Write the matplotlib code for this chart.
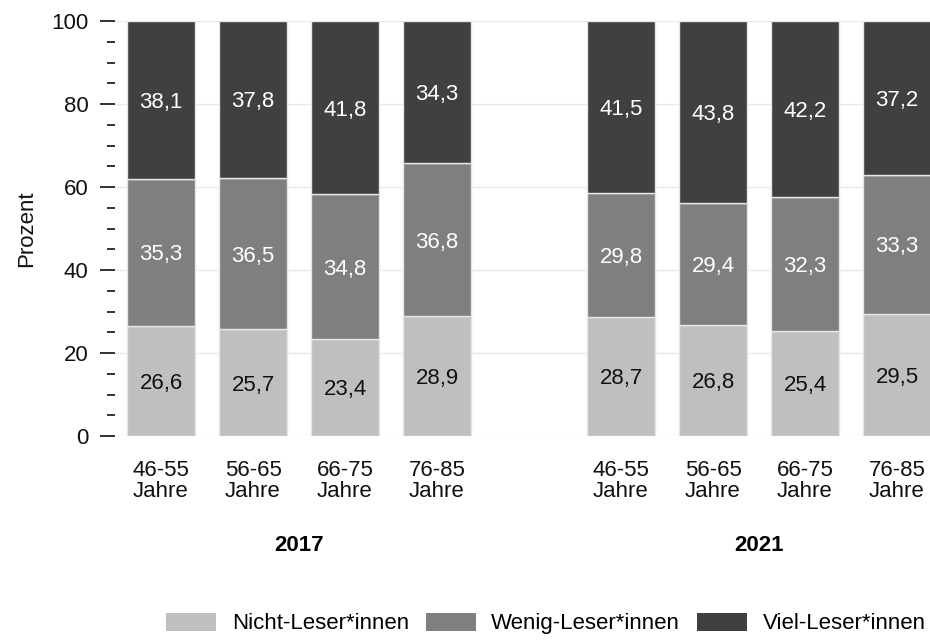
import matplotlib
matplotlib.use("Agg")
import matplotlib.pyplot as plt
from matplotlib.ticker import MultipleLocator
from matplotlib.patches import Patch

plt.rcParams['font.family'] = ['Liberation Sans', 'DejaVu Sans']

# Age groups and survey years
age_groups = ["46-55\nJahre", "56-65\nJahre", "66-75\nJahre", "76-85\nJahre"]
years = ["2017", "2021"]
series_names = ["Nicht-Leser*innen", "Wenig-Leser*innen", "Viel-Leser*innen"]

# Shares in percent, 2017 then 2021 for each age group
nicht = [26.6, 25.7, 23.4, 28.9, 28.7, 26.8, 25.4, 29.5]
wenig = [35.3, 36.5, 34.8, 36.8, 29.8, 29.4, 32.3, 33.3]
viel = [38.1, 37.8, 41.8, 34.3, 41.5, 43.8, 42.2, 37.2]

colors = ["#bfbfbf", "#7f7f7f", "#404040"]
text_colors = ["#111111", "white", "white"]
FS = 16

fig = plt.figure(figsize=(9.3, 6.41), dpi=100)
ax = fig.add_axes([0.1237, 0.3198, 0.8903, 0.6474])

positions = [0, 1, 2, 3, 5, 6, 7, 8]
width = 0.74

bottoms = [0.0] * len(positions)
for vals, col, tcol in zip([nicht, wenig, viel], colors, text_colors):
    ax.bar(positions, vals, width=width, bottom=bottoms, color=col,
           edgecolor="#e6e6e6", linewidth=1.0, zorder=3)
    for x, b, v in zip(positions, bottoms, vals):
        ax.text(x, b + v / 2, f"{v:.1f}".replace(".", ","), ha="center",
                va="center_baseline", color=tcol, fontsize=FS, zorder=4)
    bottoms = [b + v for b, v in zip(bottoms, vals)]

ax.set_ylim(0, 100)
ax.set_xlim(-0.5, 8.5)
ax.yaxis.set_major_locator(MultipleLocator(20))
ax.yaxis.set_minor_locator(MultipleLocator(5))
ax.grid(axis="y", which="major", color="#e8e8e8", linewidth=1.0, zorder=0)
ax.set_axisbelow(True)

for s in ax.spines.values():
    s.set_visible(False)

ax.tick_params(axis="y", which="major", length=11, width=1.3, color="#222222",
               labelsize=FS, pad=8, labelcolor="#111111")
ax.tick_params(axis="y", which="minor", length=6, width=1.3, color="#222222")

ax.set_xticks(positions)
ax.set_xticklabels(age_groups * 2, fontsize=FS, color="#111111", linespacing=1.05)
ax.tick_params(axis="x", length=0, pad=17)

ax.set_ylabel("Prozent", fontsize=FS, color="#111111", labelpad=10)

for year, xc in zip(years, [1.5, 6.5]):
    ax.text(xc, -26.3, year, ha="center", va="center", fontsize=FS,
            fontweight="bold", transform=ax.transData, clip_on=False)

handles = [Patch(facecolor=c, edgecolor="none") for c in colors]
fig.legend(handles, series_names, loc="center", bbox_to_anchor=(0.587, 0.027),
           ncol=3, frameon=False, fontsize=FS, handlelength=2.25,
           handleheight=0.85, handletextpad=0.7, columnspacing=0.75)

fig.savefig("out.png", dpi=100)
